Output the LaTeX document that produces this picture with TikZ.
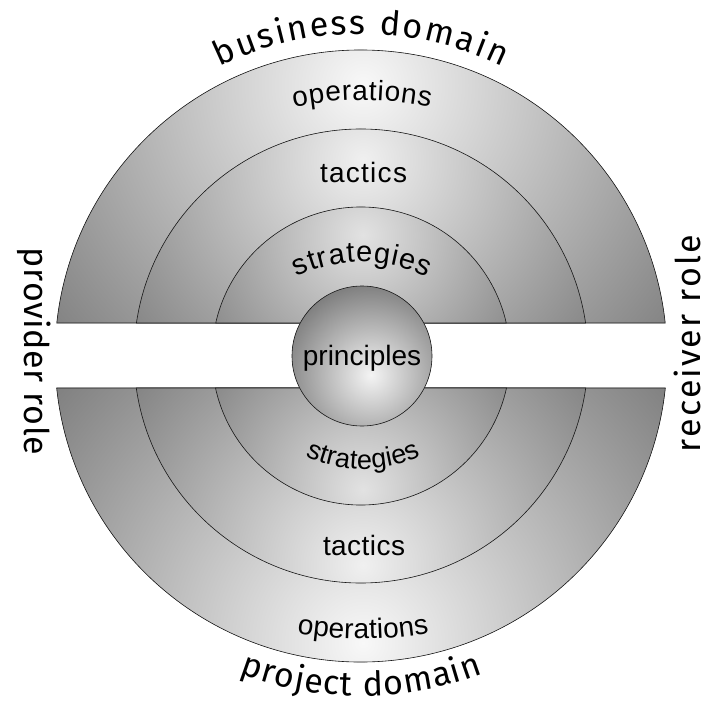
\documentclass[tikz,border=0pt]{standalone}
\usepackage{fontspec}
\newfontfamily\innerfont{Liberation Sans}
\newfontfamily\outerfont{Fira Sans}
\usetikzlibrary{decorations.text}
\newcommand\fOuter{\outerfont\fontsize{34}{38}\selectfont}
\newcommand\fSide{\outerfont\fontsize{34}{38}\selectfont}
\newcommand\fOp{\innerfont\fontsize{28}{30}\selectfont}
\newcommand\fTac{\innerfont\fontsize{28}{30}\selectfont}
\newcommand\fStr{\innerfont\fontsize{29}{30}\selectfont}
\newcommand\fStrB{\innerfont\fontsize{27}{30}\selectfont}
\newcommand\fPrin{\innerfont\fontsize{28}{30}\selectfont}
\definecolor{ringout}{HTML}{808080}
\definecolor{hiA}{HTML}{F8F8F8}
\definecolor{hiB}{HTML}{F0F0F0}
\definecolor{hiC}{HTML}{E2E2E2}
\definecolor{hiP}{HTML}{F4F4F4}
% #1 path, #2 highlight point, #3 gradient radius, #4 highlight colour
\newcommand\DrawRing[4]{%
  \begin{scope}
    \clip #1;
    \fill[ringout] (-361,-348) rectangle (350,356);
    \shade[inner color=#4, outer color=ringout] #2 circle (#3);
  \end{scope}
  \draw[ringline] #1;}
\begin{document}
\begin{tikzpicture}[x=1pt,y=1pt,
  ringline/.style={draw=black!90, line width=0.6pt},
  fittext/.style={decorate, decoration={text along path, text align={fit to path}, text={#1}}}]
\useasboundingbox (-361,-348) rectangle (350,356);

% upper half
\DrawRing{(173.81:306pt) arc[start angle=173.81, end angle=6.19, radius=306pt] -- cycle}{(2,271)}{400pt}{hiA}
\DrawRing{(171.64:227pt) arc[start angle=171.64, end angle=8.36, radius=227pt] -- cycle}{(2,196)}{300pt}{hiB}
\DrawRing{(167.20:149pt) arc[start angle=167.20, end angle=12.80, radius=149pt] -- cycle}{(2,121)}{200pt}{hiC}

% lower half
\DrawRing{(186.00:306pt) arc[start angle=186.00, end angle=354.00, radius=306pt] -- cycle}{(2,-287)}{400pt}{hiA}
\DrawRing{(188.10:227pt) arc[start angle=188.10, end angle=351.90, radius=227pt] -- cycle}{(2,-209)}{300pt}{hiB}
\DrawRing{(192.40:149pt) arc[start angle=192.40, end angle=347.60, radius=149pt] -- cycle}{(2,-134)}{200pt}{hiC}

% centre
\DrawRing{(1,0) circle (70pt)}{(10,-19)}{90pt}{hiP}
\node[anchor=base, font=\fPrin, inner sep=0pt] (principles) at (1,-9) {principles};

% upper labels
\path[fittext={|\fOp|operations}] ([shift={(1,-74)}]101.9:330pt) arc[start angle=101.9, end angle=78.1, radius=330pt];
\path[fittext={|\fTac|tactics}] (-41,173) -- (46,173);
\path[fittext={|\fStr|strategies}] ([shift={(1,-55)}]115.9:149pt) arc[start angle=115.9, end angle=64.1, radius=149pt];

% lower labels
\path[fittext={|\fStrB|strategies}] ([shift={(2,23)}]244.8:136pt) arc[start angle=244.8, end angle=295.2, radius=136pt];
\path[fittext={|\fTac|tactics}] (-38,-199) -- (44,-199);
\path[fittext={|\fOp|operations}] ([shift={(2,94)}]259.9:377pt) arc[start angle=259.9, end angle=280.1, radius=377pt];

% outer labels
\path[fittext={|\fOuter|business domain}] (116:322pt) arc[start angle=116, end angle=64, radius=322pt];
\path[fittext={|\fOuter|project domain}] (249:340pt) arc[start angle=249, end angle=291, radius=340pt];
\path[fittext={|\fSide|provider role}] (-336,108) -- (-336,-99);
\path[fittext={|\fSide|receiver role}] (339,-96) -- (339,121);
\end{tikzpicture}
\end{document}
